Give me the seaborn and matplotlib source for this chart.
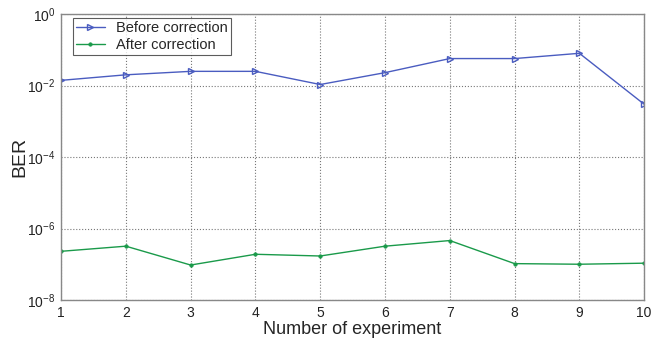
import numpy as np
import pandas as pd
import matplotlib
matplotlib.use("Agg")
import matplotlib.pyplot as plt
import seaborn as sns

# BER per experiment
experiments = [1, 2, 3, 4, 5, 6, 7, 8, 9, 10]
ber_before = [1.4e-2, 2.0e-2, 2.5e-2, 2.5e-2, 1.07e-2, 2.3e-2, 5.7e-2, 5.7e-2, 8.0e-2, 3.0e-3]
ber_after = [2.3e-7, 3.2e-7, 9.5e-8, 1.9e-7, 1.7e-7, 3.2e-7, 4.6e-7, 1.04e-7, 1.0e-7, 1.07e-7]
y_ticks = [1e-8, 1e-6, 1e-4, 1e-2, 1e0]

df = pd.DataFrame({
    "Experiment": experiments * 2,
    "BER": ber_before + ber_after,
    "Series": ["Before correction"] * 10 + ["After correction"] * 10,
})

sns.set_style("white")
plt.rcParams['font.family'] = ['Liberation Sans', 'DejaVu Sans']

fig = plt.figure(figsize=(6.71, 3.44), dpi=100)
ax = fig.add_axes([0.091, 0.128, 0.869, 0.831])

blue = "#4a5cc0"
green = "#1a9a4a"
sns.lineplot(data=df[df.Series == "Before correction"], x="Experiment", y="BER",
             color=blue, marker=">", markersize=5, markerfacecolor="none",
             markeredgecolor=blue, markeredgewidth=1, linewidth=1,
             label="Before correction", ax=ax)
sns.lineplot(data=df[df.Series == "After correction"], x="Experiment", y="BER",
             color=green, marker="o", markersize=2.5, markerfacecolor=green,
             markeredgecolor=green, markeredgewidth=0.5,
             linewidth=1, label="After correction", ax=ax)

ax.set_yscale("log")
ax.set_ylim(1e-8, 1e0)
ax.set_yticks(y_ticks)
ax.yaxis.set_minor_locator(matplotlib.ticker.NullLocator())
ax.set_xlim(1, 10)
ax.set_xticks(experiments)

ax.grid(True, linestyle=":", color="#777777", linewidth=0.8)
for s in ax.spines.values():
    s.set_color("#888888")
    s.set_linewidth(1)
ax.tick_params(axis="both", labelsize=10, length=0, pad=4, colors="#222222")

ax.set_xlabel("Number of experiment", fontsize=13, labelpad=1)
ax.set_ylabel("BER", fontsize=14, labelpad=-1)

leg = ax.legend(loc="upper left", bbox_to_anchor=(0.02, 0.985), fontsize=10.5,
                frameon=True, fancybox=False, edgecolor="#333333",
                borderpad=0.2, handlelength=2, labelspacing=0.2, borderaxespad=0)
leg.get_frame().set_linewidth(0.8)

fig.savefig("out.png", dpi=100)
